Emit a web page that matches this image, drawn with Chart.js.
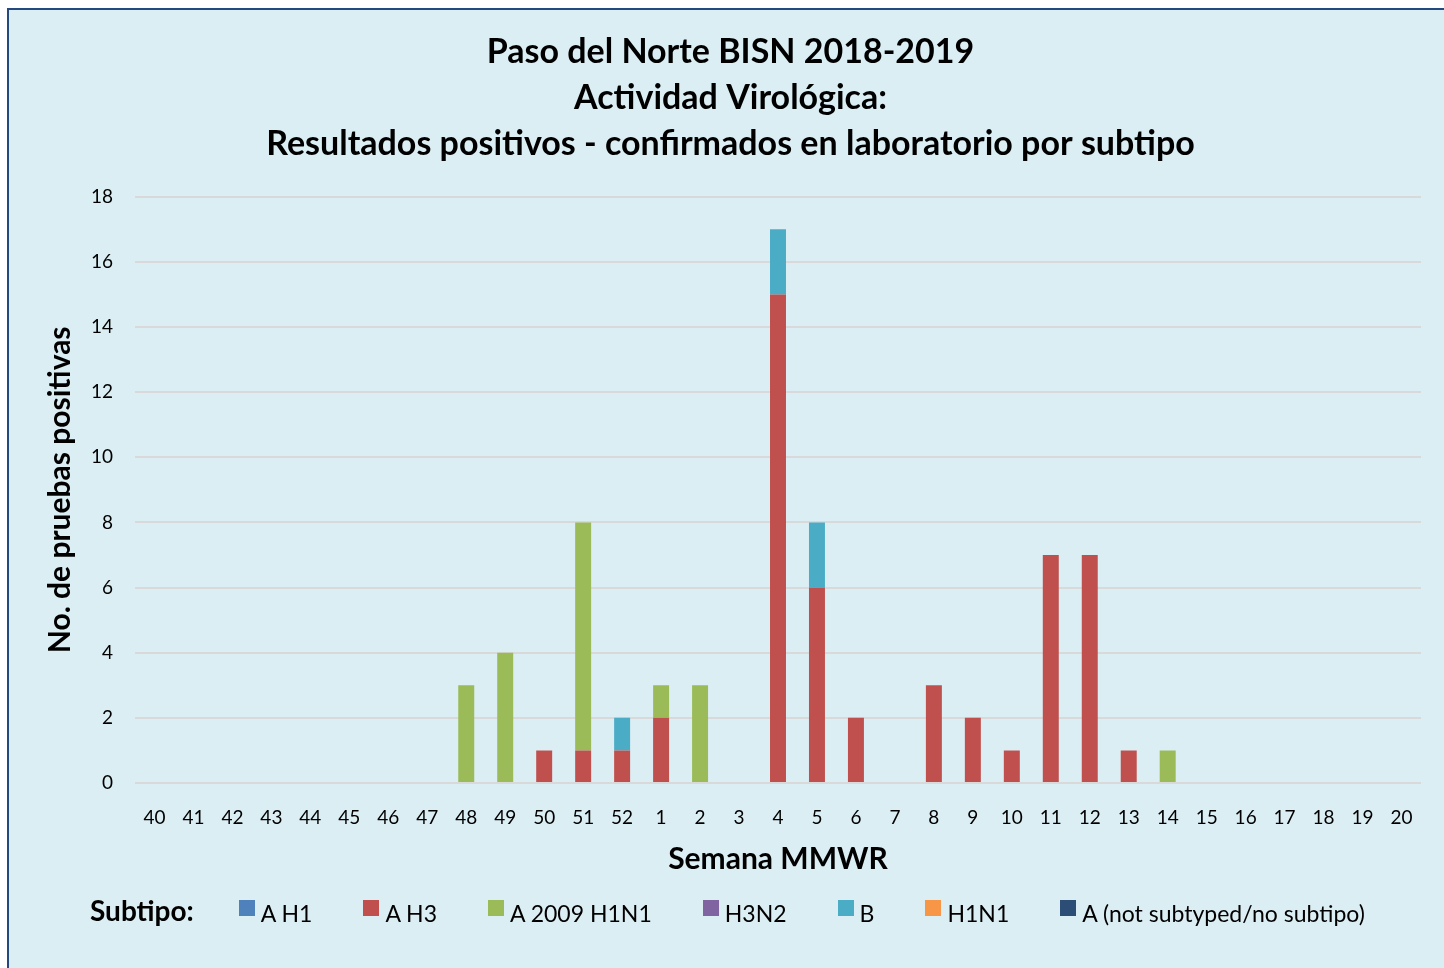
<!DOCTYPE html>
<html>
<head>
<meta charset="utf-8">
<script src="https://cdn.jsdelivr.net/npm/chart.js@4.4.1/dist/chart.umd.min.js"></script>
<style>
    html, body { margin: 0; padding: 0; width: 1444px; height: 968px; overflow: hidden; background: #ffffff; }
    #frame { position: absolute; left: 7px; top: 8px; width: 1480px; height: 1000px; border: 2px solid #24497F; background: #DBEEF4; }
    #wrap { position: absolute; left: 0; top: 0; width: 1444px; height: 968px; }
    #legend { position: absolute; left: 90px; top: 896px; display: flex; align-items: center; font-family: Lato, sans-serif; color: #000; }
    #legend .title { font-weight: bold; font-size: 28px; margin-right: 45px; position: relative; top: -3px; }
    #legend .item { display: flex; align-items: center; font-size: 23px; margin-right: 51px; }
    #legend .box { width: 16px; height: 16px; margin-right: 6px; position: relative; top: -5px; }
</style>
</head>
<body>
<div id="frame"></div>
<div id="wrap"><canvas id="myChart" width="1444" height="968"></canvas></div>
<div id="legend"></div>
<script>
const weeks = ['40', '41', '42', '43', '44', '45', '46', '47', '48', '49', '50', '51', '52',
    '1', '2', '3', '4', '5', '6', '7', '8', '9', '10', '11', '12', '13', '14', '15', '16', '17', '18', '19', '20'];

// values per week, 40 .. 20
const aH1 = [0, 0, 0, 0, 0, 0, 0, 0, 0, 0, 0, 0, 0, 0, 0, 0, 0, 0, 0, 0, 0, 0, 0, 0, 0, 0, 0, 0, 0, 0, 0, 0, 0];
const aH3 = [0, 0, 0, 0, 0, 0, 0, 0, 0, 0, 1, 1, 1, 2, 0, 0, 15, 6, 2, 0, 3, 2, 1, 7, 7, 1, 0, 0, 0, 0, 0, 0, 0];
const a2009H1N1 = [0, 0, 0, 0, 0, 0, 0, 0, 3, 4, 0, 7, 0, 1, 3, 0, 0, 0, 0, 0, 0, 0, 0, 0, 0, 0, 1, 0, 0, 0, 0, 0, 0];
const h3n2 = [0, 0, 0, 0, 0, 0, 0, 0, 0, 0, 0, 0, 0, 0, 0, 0, 0, 0, 0, 0, 0, 0, 0, 0, 0, 0, 0, 0, 0, 0, 0, 0, 0];
const fluB = [0, 0, 0, 0, 0, 0, 0, 0, 0, 0, 0, 0, 1, 0, 0, 0, 2, 2, 0, 0, 0, 0, 0, 0, 0, 0, 0, 0, 0, 0, 0, 0, 0];
const h1n1 = [0, 0, 0, 0, 0, 0, 0, 0, 0, 0, 0, 0, 0, 0, 0, 0, 0, 0, 0, 0, 0, 0, 0, 0, 0, 0, 0, 0, 0, 0, 0, 0, 0];
const aNotSubtyped = [0, 0, 0, 0, 0, 0, 0, 0, 0, 0, 0, 0, 0, 0, 0, 0, 0, 0, 0, 0, 0, 0, 0, 0, 0, 0, 0, 0, 0, 0, 0, 0, 0];

const seriesNames = ['A H1', 'A H3', 'A 2009 H1N1', 'H3N2', 'B', 'H1N1', 'A (not subtyped/no subtipo)'];
const seriesData = [aH1, aH3, a2009H1N1, h3n2, fluB, h1n1, aNotSubtyped];
const seriesColors = ['#4F81BD', '#C0504D', '#9BBB59', '#8064A2', '#4BACC6', '#F79646', '#2C4D75'];

const titleLines = ['Paso del Norte BISN 2018-2019', 'Actividad Virológica:', 'Resultados positivos - confirmados en laboratorio por subtipo'];

Chart.defaults.font.family = 'Lato, sans-serif';
Chart.defaults.color = '#000';

function buildLegend(chart) {
    const el = document.getElementById('legend');
    let html = '<span class="title">Subtipo:</span>';
    chart.data.datasets.forEach(ds => {
        html += '<span class="item"><span class="box" style="background:' + ds.backgroundColor + '"></span>' + ds.label + '</span>';
    });
    el.innerHTML = html;
}

function initChart() {
    const ctx = document.getElementById('myChart').getContext('2d');
    const myChart = new Chart(ctx, {
        type: 'bar',
        data: {
            labels: weeks,
            datasets: seriesNames.map((name, i) => ({
                label: name,
                data: seriesData[i],
                backgroundColor: seriesColors[i],
                borderWidth: 0,
                barPercentage: 0.41,
                categoryPercentage: 1.0
            }))
        },
        options: {
            responsive: false,
            animation: false,
            layout: {
                padding: { left: 40, right: 23, top: 9, bottom: 85 }
            },
            plugins: {
                legend: { display: false },
                tooltip: { enabled: false },
                title: {
                    display: true,
                    text: titleLines,
                    font: { size: 34, weight: 'bold', lineHeight: 1.35 },
                    padding: { top: 20, bottom: 30 }
                }
            },
            scales: {
                x: {
                    stacked: true,
                    grid: { display: false },
                    border: { display: false },
                    ticks: { font: { size: 19 }, padding: 15, maxRotation: 0, autoSkip: false },
                    title: {
                        display: true,
                        text: 'Semana MMWR',
                        font: { size: 30, weight: 'bold' },
                        padding: { top: 6, bottom: 6 }
                    },
                    afterFit: scale => { scale.height = 100; }
                },
                y: {
                    stacked: true,
                    min: 0,
                    max: 18,
                    ticks: { stepSize: 2, font: { size: 19 }, padding: 22 },
                    grid: { color: '#D9D9D9', lineWidth: 2, drawTicks: false },
                    border: { display: false },
                    title: {
                        display: true,
                        text: 'No. de pruebas positivas',
                        font: { size: 30, weight: 'bold' },
                        padding: { top: 2, bottom: 2 }
                    },
                    afterFit: scale => { scale.width = 95; }
                }
            }
        }
    });
    buildLegend(myChart);
}

initChart();
</script>
</body>
</html>
